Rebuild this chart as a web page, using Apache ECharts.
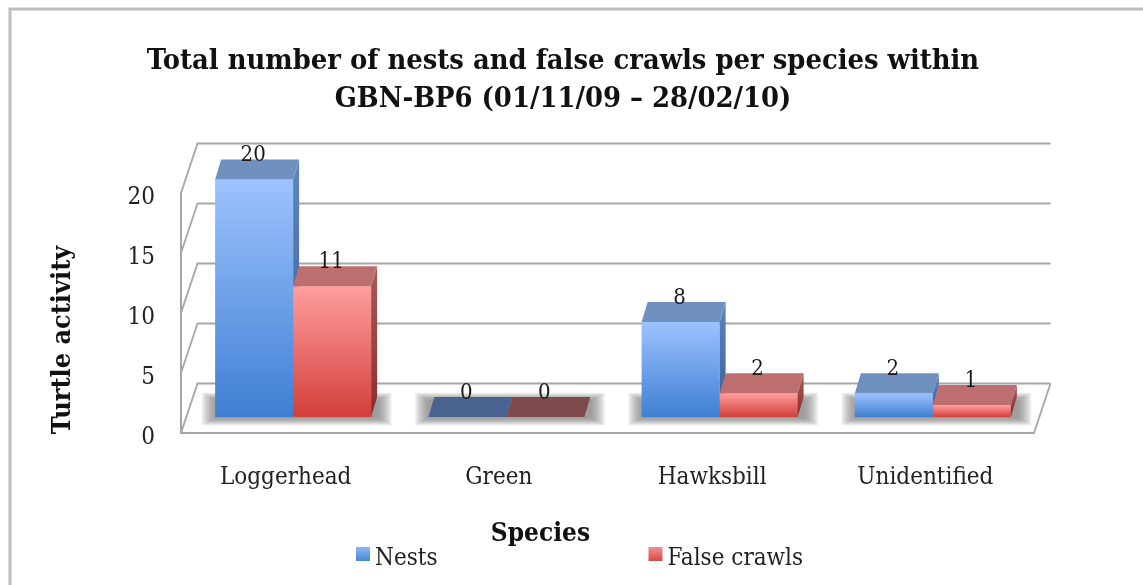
<!DOCTYPE html>
<html><head><meta charset="utf-8">
<style>html,body{margin:0;padding:0;background:#fff}#c{width:1143px;height:585px}</style>
<script src="https://cdn.jsdelivr.net/npm/echarts@6/dist/echarts.min.js"></script></head>
<body><div id="c"></div>
<script>
const categories = ['Loggerhead', 'Green', 'Hawksbill', 'Unidentified'];
const nests = [20, 0, 8, 2];
const falseCrawls = [11, 0, 2, 1];
const yTicks = [0, 5, 10, 15, 20];
const titleText = 'Total number of nests and false crawls per species within\nGBN-BP6 (01/11/09 – 28/02/10)';

const FONT = '"DejaVu Serif Condensed","DejaVu Serif",serif';
const WALL = {dx: 16.5, dy: 50.5};
const BAR = {ox: 5.5, dy: 16, w: 78, dx: 6, depth: 20, k: 0.99};
const LINE = '#a6a6a6';
const grad = (a, b) => ({type: 'linear', x: 0, y: 0, x2: 0, y2: 1, colorStops: [{offset: 0, color: a}, {offset: 1, color: b}]});
const BLUE = {front: grad('#9dc3ff', '#3f7fd2'), top: '#7090c0', zero: '#4a628f', side: grad('#5f86bc', '#355f96'), legend: grad('#8fb6f2', '#4a86d6')};
const RED = {front: grad('#ff9e9e', '#d33f39'), top: '#bd6f70', zero: '#7f4a4c', side: grad('#a85a5a', '#8a2e2c'), legend: grad('#f59090', '#d64a44')};

function barRenderer(pal, side) {
  return function (params, api) {
    const cat = api.value(0), val = api.value(1);
    const p0 = api.coord([cat, 0]), p1 = api.coord([cat, val]);
    const c = p0[0] + BAR.ox;
    const x0 = side < 0 ? c - BAR.w : c, x1 = x0 + BAR.w;
    const yb = p0[1] - BAR.dy, yt = yb - (p0[1] - p1[1]) * BAR.k;
    const ch = [];
    if (val > 0) {
      ch.push({type: 'rect', shape: {x: x0, y: yt, width: BAR.w, height: yb - yt}, style: {fill: pal.front}});
      ch.push({type: 'polygon', shape: {points: [[x1, yt], [x1 + BAR.dx, yt - BAR.depth], [x1 + BAR.dx, yb - BAR.depth], [x1, yb]]}, style: {fill: pal.side}});
    }
    ch.push({type: 'polygon', shape: {points: [[x0, yt], [x0 + BAR.dx, yt - BAR.depth], [x1 + BAR.dx, yt - BAR.depth], [x1, yt]]}, style: {fill: val > 0 ? pal.top : pal.zero}});
    ch.push({type: 'text', z2: 50, style: {text: String(val), x: (x0 + x1) / 2 - 1, y: yt - 24, align: 'center', verticalAlign: 'middle', font: '22px ' + FONT, fill: '#1a1a1a'}});
    return {type: 'group', children: ch};
  };
}

const option = {
  animation: false,
  backgroundColor: '#fff',
  title: {
    text: titleText, left: 558, top: 37, textAlign: 'center',
    textStyle: {fontFamily: FONT, fontWeight: 'bold', fontSize: 28.8, lineHeight: 38.5, color: '#111'}
  },
  legend: {
    data: ['Nests', 'False crawls'], left: 351, top: 542, itemWidth: 14, itemHeight: 14, itemGap: 211,
    icon: 'rect', formatter: '{t|{name}}',
    textStyle: {rich: {t: {fontFamily: FONT, fontSize: 24, color: '#222', padding: [10, 0, 0, 0]}}}
  },
  grid: {left: 181, right: 109, top: 193, bottom: 152},
  xAxis: {
    type: 'category', data: categories,
    axisLine: {show: true, lineStyle: {color: LINE, width: 2}}, axisTick: {show: false},
    axisLabel: {fontFamily: FONT, fontSize: 24, color: '#222', margin: 33, padding: [0, 4, 0, 0]},
    name: 'Species', nameLocation: 'middle', nameGap: 88,
    nameTextStyle: {fontFamily: FONT, fontWeight: 'bold', fontSize: 26, color: '#111', padding: [0, 134, 0, 0]}
  },
  yAxis: {
    type: 'value', min: 0, max: 20, interval: 5,
    axisLine: {show: true, lineStyle: {color: LINE, width: 2}}, axisTick: {show: false},
    splitLine: {show: false},
    axisLabel: {fontFamily: FONT, fontSize: 24, color: '#222', margin: 26, verticalAlign: 'top', lineHeight: 10},
    name: 'Turtle activity', nameLocation: 'middle', nameGap: 104,
    nameTextStyle: {fontFamily: FONT, fontWeight: 'bold', fontSize: 26.8, color: '#111', padding: [0, 54, 0, 0]}
  },
  series: [
    {
      name: 'walls', type: 'custom', z: 1, silent: true, data: yTicks.map(v => [0, v]),
      renderItem(params, api) {
        const g = params.coordSys, y = api.coord([0, api.value(1)])[1];
        const ch = [{type: 'polyline', shape: {points: [[g.x, y], [g.x + WALL.dx, y - WALL.dy + 1], [g.x + g.width + WALL.dx, y - WALL.dy + 1]]}, style: {fill: null, stroke: LINE, lineWidth: 1.8}}];
        if (api.value(1) === 0) ch.push({type: 'line', shape: {x1: g.x + g.width, y1: y, x2: g.x + g.width + WALL.dx, y2: y - WALL.dy + 1}, style: {stroke: LINE, lineWidth: 1.8}});
        return {type: 'group', children: ch};
      }
    },
    {
      name: 'shadow', type: 'custom', z: 2, silent: true, data: categories.map((c, i) => [i]),
      renderItem(params, api) {
        const p0 = api.coord([api.value(0), 0]), c = p0[0] + BAR.ox, yb = p0[1] - BAR.dy;
        const ch = [];
        for (let i = 9; i >= 0; i--) {
          ch.push({type: 'rect', shape: {x: c - BAR.w - i * 1.5, y: yb - 17 - i * 0.8, width: 2 * BAR.w + 7 + i * 3, height: 17 + 1 + i * 1.6}, style: {fill: 'rgba(115,115,115,0.11)'}});
        }
        return {type: 'group', children: ch};
      }
    },
    {
      name: 'Nests', type: 'custom', z: 3, itemStyle: {color: BLUE.legend}, encode: {x: 0, y: 1},
      data: nests.map((v, i) => [i, v]), renderItem: barRenderer(BLUE, -1)
    },
    {
      name: 'False crawls', type: 'custom', z: 4, itemStyle: {color: RED.legend}, encode: {x: 0, y: 1},
      data: falseCrawls.map((v, i) => [i, v]), renderItem: barRenderer(RED, 1)
    }
  ],
  graphic: [{type: 'rect', z: 0, silent: true, shape: {x: 10, y: 9, width: 1300, height: 800}, style: {fill: null, stroke: '#bdbdbd', lineWidth: 3}}]
};
echarts.init(document.getElementById('c')).setOption(option);
</script></body></html>
